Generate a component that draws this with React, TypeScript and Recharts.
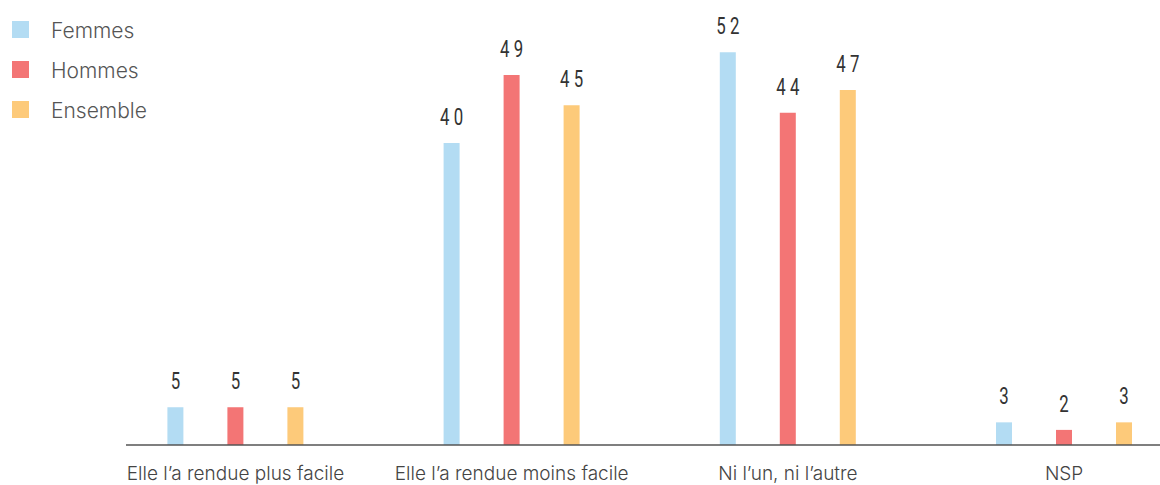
import { Bar, BarChart, LabelList, Legend, XAxis, YAxis } from "recharts";

const categories = [
  "Elle l’a rendue plus facile",
  "Elle l’a rendue moins facile",
  "Ni l’un, ni l’autre",
  "NSP",
];
const femmes = [5, 40, 52, 3];
const hommes = [5, 49, 44, 2];
const ensemble = [5, 45, 47, 3];

const series = [
  { key: "femmes", name: "Femmes", color: "#b3dcf3" },
  { key: "hommes", name: "Hommes", color: "#f37575" },
  { key: "ensemble", name: "Ensemble", color: "#fdca7a" },
];

const data = categories.map((cat, i) => ({
  cat,
  femmes: femmes[i],
  hommes: hommes[i],
  ensemble: ensemble[i],
}));

// condensed look: Roboto squeezed horizontally
const ValueLabel = (props: any) => {
  const { x, y, width, value } = props;
  const cx = x + width / 2;
  const ty = y - 18;
  return (
    <text
      x={cx}
      y={ty}
      dx={3}
      textAnchor="middle"
      transform={`translate(${cx} 0) scale(0.7 1) translate(${-cx} 0)`}
      fontFamily="Roboto, sans-serif"
      fontSize={24}
      letterSpacing={6}
      fill="#333"
    >
      {value}
    </text>
  );
};

const LegendBox = () => (
  <div>
    {series.map((s) => (
      <div
        key={s.key}
        style={{ display: "flex", alignItems: "center", height: 40 }}
      >
        <span
          style={{
            width: 17,
            height: 17,
            background: s.color,
            display: "inline-block",
            marginRight: 22,
          }}
        />
        <span
          style={{
            fontFamily: "Inter, Roboto, sans-serif",
            fontWeight: 300,
            fontSize: 21,
            color: "#555",
            position: "relative",
            top: 1,
          }}
        >
          {s.name}
        </span>
      </div>
    ))}
  </div>
);

export default function App() {
  return (
    <div
      style={{
        position: "absolute",
        left: 0,
        top: 0,
        width: 1160,
        height: 485,
        overflow: "hidden",
        background: "#fff",
      }}
    >
      <BarChart
        width={1160}
        height={485}
        data={data}
        margin={{ top: 29.6, right: 0, bottom: 0, left: 126 }}
        barSize={16}
        barGap={44}
      >
        <XAxis
          dataKey="cat"
          padding={{ left: -28.6, right: -42.2 }}
          axisLine={{ stroke: "#555", strokeWidth: 1.5 }}
          tickLine={false}
          tickMargin={16}
          interval={0}
          tick={{
            fontFamily: "Inter, Roboto, sans-serif",
            fontWeight: 300,
            fontSize: 19,
            fill: "#444",
          }}
          height={40}
        />
        <YAxis hide domain={[0, 55]} />
        <Legend
          layout="vertical"
          align="center"
          verticalAlign="middle"
          wrapperStyle={{ top: 9, left: 12, width: 200, height: 120 }}
          content={<LegendBox />}
        />
        {series.map((s) => (
          <Bar
            key={s.key}
            dataKey={s.key}
            name={s.name}
            fill={s.color}
            isAnimationActive={false}
          >
            <LabelList dataKey={s.key} content={<ValueLabel />} />
          </Bar>
        ))}
      </BarChart>
    </div>
  );
}
